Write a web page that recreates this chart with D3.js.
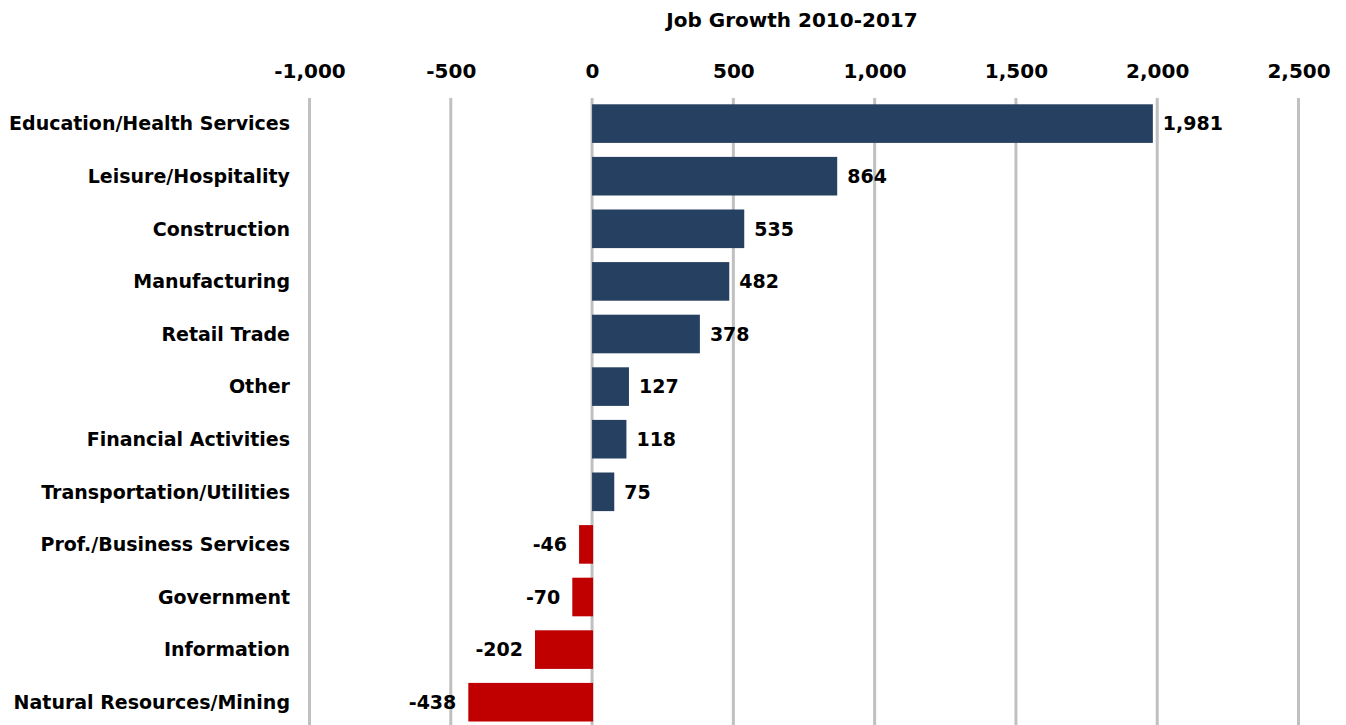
<html>
<head>
<meta charset="utf-8">
<style>
  body { margin: 0; background: #fff; }
  text { font-family: "DejaVu Sans", sans-serif; font-weight: 700; fill: #000; }
</style>
</head>
<body>
<script src="https://d3js.org/d3.v7.min.js"></script>
<script>
// data
var categories = ["Education/Health Services", "Leisure/Hospitality", "Construction",
  "Manufacturing", "Retail Trade", "Other", "Financial Activities",
  "Transportation/Utilities", "Prof./Business Services", "Government",
  "Information", "Natural Resources/Mining"];
var growth = [1981, 864, 535, 482, 378, 127, 118, 75, -46, -70, -202, -438];
var tickValues = [-1000, -500, 0, 500, 1000, 1500, 2000, 2500];
var chartTitle = "Job Growth 2010-2017";

var W = 1346, H = 725;

var svg = d3.select("body").append("svg")
    .attr("width", W)
    .attr("height", H);

var x = d3.scaleLinear()
    .domain([-1000, 2500])
    .range([309.5, 1298.5]);

var y = d3.scaleBand()
    .domain(categories)
    .range([90.3, 735.5])
    .paddingInner(0.266)
    .paddingOuter(0.266);

// hyphen instead of unicode minus, like the original
var fmt = function(d) { return d3.format(",")(d).replace("\u2212", "-"); };

// title
svg.append("text")
    .attr("x", 792)
    .attr("y", 27)
    .attr("text-anchor", "middle")
    .style("font-size", "20px")
    .text(chartTitle);

// grid lines
svg.append("g")
  .selectAll("line")
  .data(tickValues)
  .enter().append("line")
    .attr("x1", function(d) { return x(d); })
    .attr("x2", function(d) { return x(d); })
    .attr("y1", 98)
    .attr("y2", H)
    .attr("stroke", "#c0c0c0")
    .attr("stroke-width", 3);

// top axis labels
var axis = svg.append("g")
    .attr("transform", "translate(0,78)")
    .call(d3.axisTop(x).tickValues(tickValues).tickFormat(fmt).tickSize(0).tickPadding(0));
axis.select(".domain").remove();
axis.selectAll("text")
    .style("font-family", "DejaVu Sans, sans-serif")
    .style("font-weight", 700)
    .style("font-size", "20px")
    .attr("fill", "#000");

// bars
svg.append("g")
  .selectAll("rect")
  .data(growth)
  .enter().append("rect")
    .attr("x", function(d) { return x(Math.min(0, d)); })
    .attr("y", function(d, i) { return y(categories[i]); })
    .attr("width", function(d) { return Math.abs(x(d) - x(0)) + 1; })
    .attr("height", y.bandwidth())
    .attr("fill", function(d) { return d < 0 ? "#c00000" : "#264061"; });

// value labels
svg.append("g")
  .selectAll("text")
  .data(growth)
  .enter().append("text")
    .attr("x", function(d) { return d < 0 ? x(d) - 12 : x(d) + 11; })
    .attr("y", function(d, i) { return y(categories[i]) + y.bandwidth() / 2; })
    .attr("dy", "0.36em")
    .attr("text-anchor", function(d) { return d < 0 ? "end" : "start"; })
    .style("font-size", "19px")
    .text(function(d) { return fmt(d); });

// category labels
svg.append("g")
  .selectAll("text")
  .data(categories)
  .enter().append("text")
    .attr("x", 290)
    .attr("y", function(d) { return y(d) + y.bandwidth() / 2; })
    .attr("dy", "0.36em")
    .attr("text-anchor", "end")
    .style("font-size", "19px")
    .text(function(d) { return d; });
</script>
</body>
</html>
